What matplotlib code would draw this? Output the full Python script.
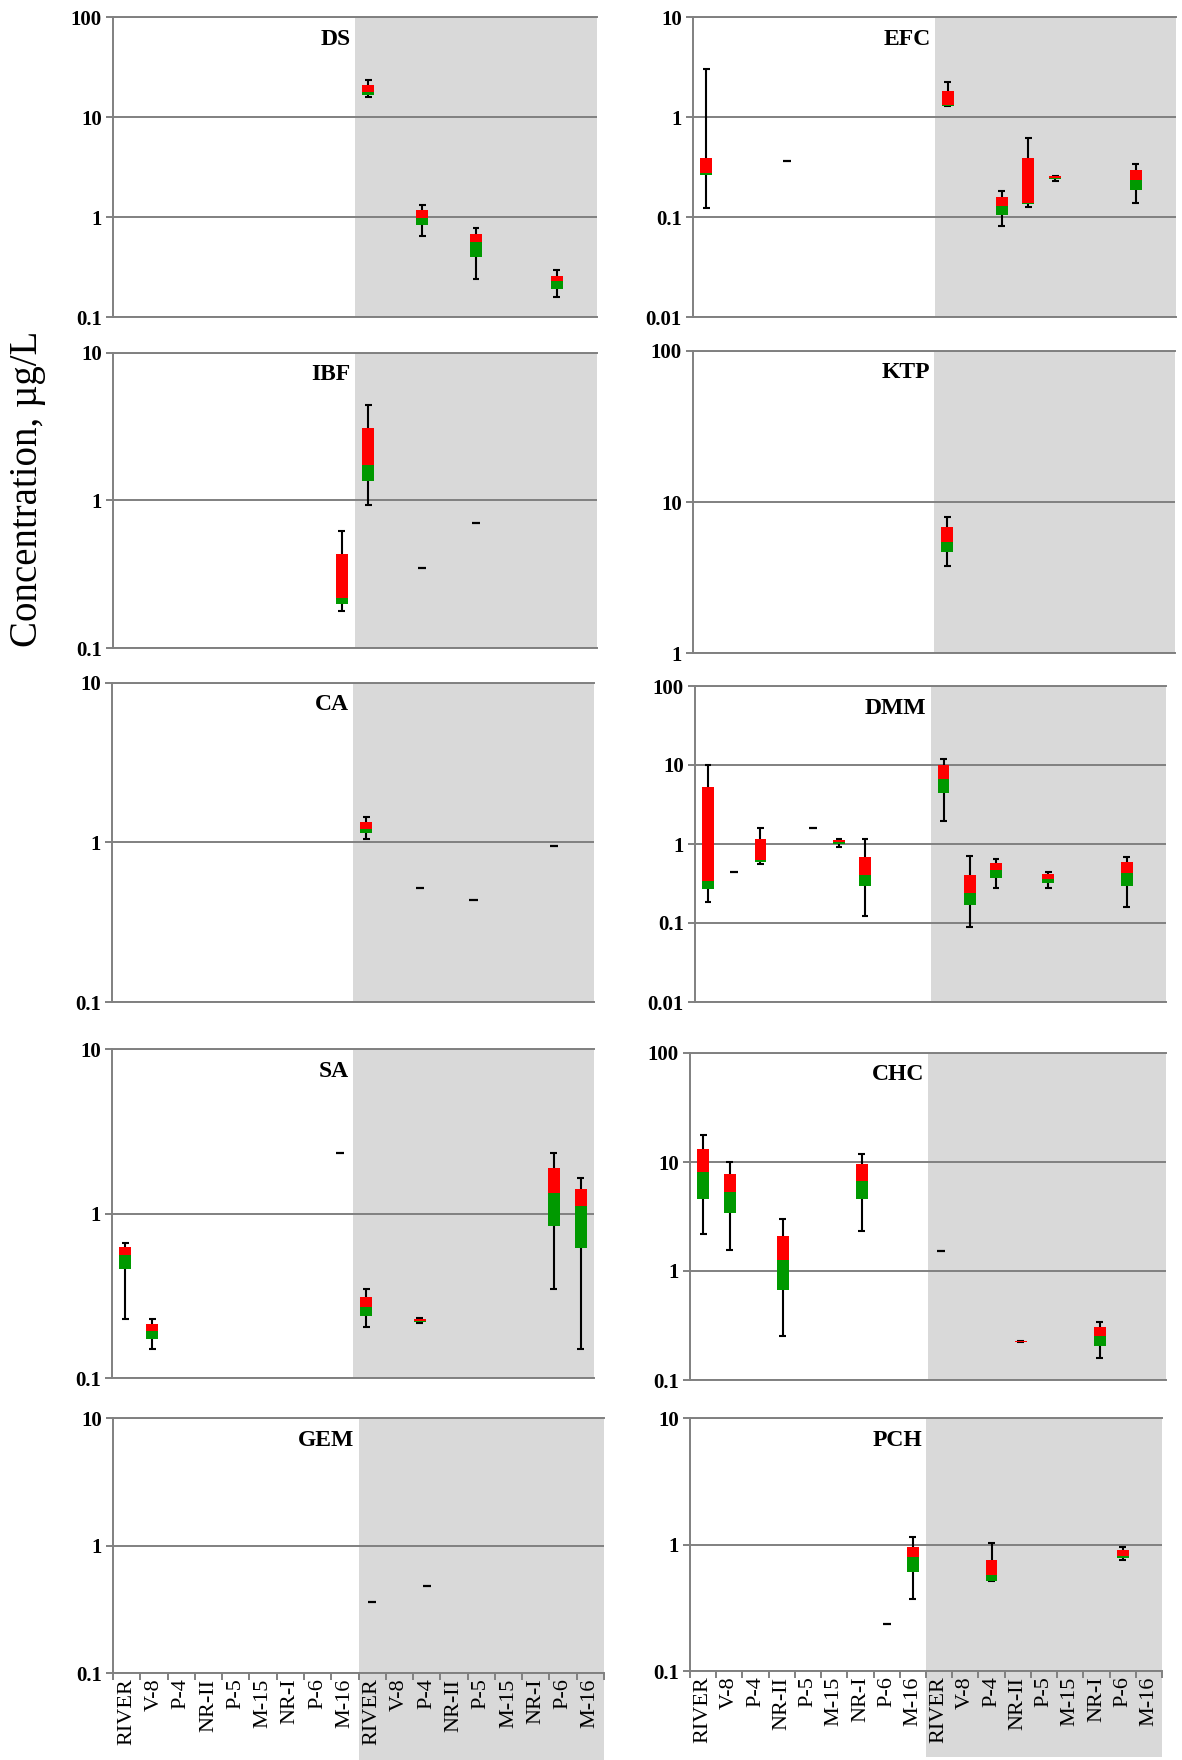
import matplotlib
matplotlib.use('Agg')
import matplotlib.pyplot as plt
from matplotlib.patches import Rectangle
from matplotlib.ticker import FixedLocator, FuncFormatter, NullFormatter

plt.rcParams['font.family'] = ['Liberation Serif', 'DejaVu Serif']

sites = ['RIVER', 'V-8', 'P-4', 'NR-II', 'P-5', 'M-15', 'NR-I', 'P-6', 'M-16'] * 2

# boxes: (site index, whisker low, q1, median, q3, whisker high)
# single: (site index, value)
ds_boxes = [(9, 15.7, 16.6, 17.6, 20.7, 23.3),
            (11, 0.64, 0.83, 0.98, 1.17, 1.33),
            (13, 0.24, 0.40, 0.56, 0.67, 0.78),
            (16, 0.157, 0.192, 0.227, 0.259, 0.297)]
ds_single = []

efc_boxes = [(0, 0.123, 0.263, 0.273, 0.392, 3.04),
             (9, 1.28, 1.28, 1.33, 1.82, 2.24),
             (11, 0.081, 0.105, 0.129, 0.158, 0.181),
             (12, 0.127, 0.135, 0.138, 0.392, 0.617),
             (13, 0.229, 0.238, 0.244, 0.255, 0.257),
             (16, 0.137, 0.185, 0.234, 0.295, 0.339)]
efc_single = [(3, 0.363)]

ibf_boxes = [(8, 0.178, 0.200, 0.217, 0.431, 0.626),
             (9, 0.93, 1.35, 1.73, 3.12, 4.42)]
ibf_single = [(11, 0.346), (13, 0.703)]

ktp_boxes = [(9, 3.79, 4.64, 5.41, 6.8, 7.91)]
ktp_single = []

ca_boxes = [(9, 1.05, 1.15, 1.22, 1.35, 1.44)]
ca_single = [(11, 0.522), (13, 0.435), (16, 0.953)]

dmm_boxes = [(0, 0.184, 0.267, 0.337, 5.21, 10.0),
             (2, 0.558, 0.598, 0.627, 1.16, 1.61),
             (5, 0.907, 0.99, 1.05, 1.11, 1.15),
             (6, 0.123, 0.291, 0.405, 0.685, 1.15),
             (9, 1.95, 4.42, 6.71, 10.0, 11.8),
             (10, 0.088, 0.171, 0.238, 0.401, 0.712),
             (11, 0.28, 0.367, 0.469, 0.569, 0.652),
             (13, 0.28, 0.324, 0.364, 0.421, 0.442),
             (16, 0.158, 0.291, 0.43, 0.592, 0.678)]
dmm_single = [(1, 0.442), (4, 1.61)]

sa_boxes = [(0, 0.229, 0.459, 0.562, 0.628, 0.659),
            (1, 0.15, 0.172, 0.192, 0.214, 0.229),
            (9, 0.204, 0.238, 0.272, 0.311, 0.35),
            (11, 0.217, 0.219, 0.221, 0.229, 0.232),
            (16, 0.35, 0.841, 1.34, 1.9, 2.33),
            (17, 0.15, 0.62, 1.11, 1.4, 1.64)]
sa_single = [(8, 2.33)]

chc_boxes = [(0, 2.17, 4.61, 8.04, 13.2, 17.8),
             (1, 1.57, 3.38, 5.31, 7.7, 10.0),
             (3, 0.255, 0.674, 1.25, 2.1, 2.98),
             (6, 2.31, 4.61, 6.74, 9.59, 11.8),
             (12, 0.221, 0.221, 0.222, 0.226, 0.226),
             (15, 0.16, 0.204, 0.252, 0.306, 0.338)]
chc_single = [(9, 1.53)]

gem_boxes = []
gem_single = [(9, 0.358), (11, 0.483)]

pch_boxes = [(8, 0.372, 0.604, 0.794, 0.947, 1.14),
             (11, 0.519, 0.519, 0.579, 0.761, 1.02),
             (16, 0.751, 0.789, 0.813, 0.913, 0.947)]
pch_single = [(7, 0.234)]

# name, y limits, boxes, singles, axes rect in pixels (x0, x1, ytop, ybottom)
panels = [
    ('DS', (0.1, 100), ds_boxes, ds_single, (113, 597, 17, 317)),
    ('EFC', (0.01, 10), efc_boxes, efc_single, (693, 1176, 17, 317)),
    ('IBF', (0.1, 10), ibf_boxes, ibf_single, (113, 597, 353, 648)),
    ('KTP', (1, 100), ktp_boxes, ktp_single, (693, 1175, 351, 653)),
    ('CA', (0.1, 10), ca_boxes, ca_single, (112, 594, 683, 1002)),
    ('DMM', (0.01, 100), dmm_boxes, dmm_single, (695, 1166, 686, 1002)),
    ('SA', (0.1, 10), sa_boxes, sa_single, (112, 594, 1049, 1378)),
    ('CHC', (0.1, 100), chc_boxes, chc_single, (690, 1166, 1053, 1380)),
    ('GEM', (0.1, 10), gem_boxes, gem_single, (113, 604, 1418, 1673)),
    ('PCH', (0.1, 10), pch_boxes, pch_single, (690, 1162, 1418, 1671)),
]

W, H = 1182, 1760
fig = plt.figure(figsize=(W / 100, H / 100), dpi=100)
red = '#ff0000'
green = '#009900'
grid_col = '#808080'

for k, (name, ylim, boxes, singles, rect) in enumerate(panels):
    x0, x1, yt, yb = rect
    ax = fig.add_axes([x0 / W, 1 - yb / H, (x1 - x0) / W, (yb - yt) / H])
    bottom_row = k >= 8
    ax.set_yscale('log')
    ax.set_ylim(*ylim)
    ax.set_xlim(-0.5, 17.5)
    ax.set_axisbelow(True)

    # shaded second half
    if bottom_row:
        ax.add_patch(Rectangle((8.5, -0.34), 9, 1.34, transform=ax.get_xaxis_transform(),
                               facecolor='#d9d9d9', edgecolor='none', zorder=0, clip_on=False))
    else:
        ax.axvspan(8.5, 17.5, color='#d9d9d9', zorder=0, lw=0)

    decades = []
    v = ylim[0]
    while v <= ylim[1] * 1.001:
        decades.append(v)
        v *= 10
    ax.yaxis.set_major_locator(FixedLocator(decades))
    ax.yaxis.set_minor_locator(FixedLocator([]))
    ax.yaxis.set_major_formatter(FuncFormatter(lambda val, pos: '%g' % val))
    ax.grid(axis='y', color=grid_col, lw=1.4)
    ax.tick_params(axis='y', direction='out', length=5, color=grid_col, width=1.4,
                   labelsize=15, pad=3)
    for lab in ax.get_yticklabels():
        lab.set_fontweight('bold')

    ax.spines['right'].set_visible(False)
    for side in ['left', 'bottom', 'top']:
        ax.spines[side].set_color(grid_col)
        ax.spines[side].set_linewidth(1.4)

    if bottom_row:
        ax.xaxis.set_major_locator(FixedLocator([i - 0.5 for i in range(19)]))
        ax.xaxis.set_major_formatter(NullFormatter())
        ax.xaxis.set_minor_locator(FixedLocator(list(range(18))))
        ax.set_xticklabels(sites, minor=True, rotation=90, fontsize=16)
        ax.tick_params(axis='x', which='major', direction='out', length=5,
                       color=grid_col, width=1.4)
        ax.tick_params(axis='x', which='minor', length=0, pad=4)
    else:
        ax.set_xticks([])

    for (i, lo, q1, med, q3, hi) in boxes:
        ax.vlines(i, lo, hi, color='black', lw=1.5, zorder=2)
        ax.hlines([lo, hi], i - 0.13, i + 0.13, color='black', lw=1.5, zorder=2)
        ax.bar(i, med - q1, bottom=q1, width=0.45, color=green, zorder=3)
        ax.bar(i, q3 - med, bottom=med, width=0.45, color=red, zorder=3)
    for (i, val) in singles:
        ax.hlines(val, i - 0.15, i + 0.15, color='black', lw=1.6, zorder=3)

    ax.annotate(name, xy=(8.35, 1), xycoords=('data', 'axes fraction'),
                xytext=(0, -22), textcoords='offset pixels', ha='right', va='center',
                fontsize=17, fontweight='bold')

fig.text(0.023, 0.722, 'Concentration, µg/L', rotation=90, ha='center', va='center',
         fontsize=28)

fig.savefig('out.png', dpi=100)
